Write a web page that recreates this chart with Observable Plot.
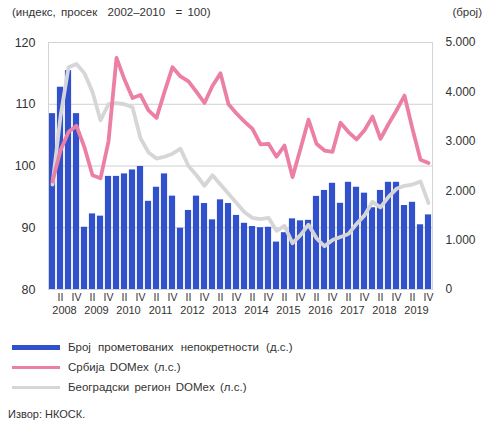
<!DOCTYPE html>
<html>
<head>
<meta charset="utf-8">
<script src="https://cdn.jsdelivr.net/npm/d3@7"></script>
<script src="https://cdn.jsdelivr.net/npm/@observablehq/plot@0.6"></script>
<style>
  html, body { margin: 0; padding: 0; background: #fff; }
  body { width: 484px; height: 425px; overflow: hidden; font-family: "Liberation Sans", Arial, sans-serif; color: #333; }
  #header { position: relative; height: 22px; font-size: 11.5px; }
  #header .l { position: absolute; left: 12px; top: 6px; word-spacing: 2px; }
  #header .r { position: absolute; right: 2px; top: 6px; }
  #chart svg { display: block; }
  #legend { padding-top: 15px; padding-left: 12px; font-size: 11.5px; word-spacing: 2px; }
  .row { display: flex; align-items: center; height: 20px; }
  .sw { width: 48px; margin-right: 8px; }
  #source { font-size: 11px; padding-left: 8px; margin-top: 11px; }
</style>
</head>
<body>
<div id="header"><span class="l">(индекс, просек&nbsp; 2002–2010&nbsp; = 100)</span><span class="r">(број)</span></div>
<div id="chart"></div>
<div id="legend"></div>
<div id="source">Извор: НКОСК.</div>
<script>
// ---- data ----
const years = ["2008","2009","2010","2011","2012","2013","2014","2015","2016","2017","2018","2019"];
const quarterLabels = ["", "II", "", "IV"];
const leftTicks = [80, 90, 100, 110, 120];
const rightTicks = [0, 1000, 2000, 3000, 4000, 5000];
const seriesNames = ["Број прометованих непокретности (д.с.)", "Србија DOMex (л.с.)", "Београдски регион DOMex (л.с.)"];
const seriesColors = ["#3150cc", "#ec7fa5", "#d6d6d8"];

// number of transactions (right axis), quarterly 2008Q1–2019Q4
const transactions = [
  3560, 4095, 4430, 3560,
  1260, 1530, 1485, 2290,
  2290, 2340, 2420, 2490,
  1785, 2070, 2340, 1890,
  1240, 1600, 1890, 1740,
  1410, 1815, 1740, 1500,
  1340, 1275, 1250, 1260,
   960, 1150, 1430, 1390,
  1400, 1885, 2005, 2150,
  1745, 2170, 2070, 1950,
  1655, 2005, 2170, 2170,
  1700, 1765, 1310, 1510
];
// Serbia DOMex (left axis)
const serbiaDomex = [
   97.5, 102.5, 105.5, 106.5,
  103.0,  98.5,  98.0, 104.0,
  117.5, 114.0, 111.0, 111.5,
  109.0, 107.8, 112.0, 116.0,
  114.5, 113.7, 112.0, 110.2,
  113.0, 115.0, 110.0, 108.5,
  107.2, 106.0, 103.5, 103.6,
  101.5, 103.3,  98.2, 102.8,
  107.5, 103.6, 102.5, 102.3,
  107.0, 105.5, 104.3, 105.8,
  108.0, 104.4, 106.8, 109.0,
  111.4, 106.0, 101.0, 100.5
];
// Belgrade region DOMex (left axis)
const belgradeDomex = [
   97.0, 108.0, 116.0, 116.5,
  115.0, 112.0, 107.4, 110.0,
  110.2, 110.0, 109.5, 104.5,
  102.2, 101.2, 101.5, 102.0,
  102.8, 100.0,  98.5,  96.8,
   98.5,  97.0,  95.5,  94.0,
   92.5,  91.6,  91.4,  91.6,
   89.5,  90.3,  87.5,  88.8,
   90.5,  88.3,  87.0,  88.0,
   88.5,  89.0,  90.6,  92.0,
   94.2,  93.3,  95.0,  96.3,
   96.8,  97.0,  97.5,  94.0
];

// ---- build table ----
const yMin = leftTicks[0], yMax = leftTicks[leftTicks.length - 1];
const rMax = rightTicks[rightTicks.length - 1];
const toLeft = c => yMin + c * (yMax - yMin) / rMax;
const rows = transactions.map((t, i) => ({
  i, year: years[Math.floor(i / 4)], q: i % 4, t, s: serbiaDomex[i], b: belgradeDomex[i]
}));
const n = rows.length;
const qTicks = rows.filter(d => quarterLabels[d.q] !== "").map(d => d.i + 0.5);
const qFormat = v => quarterLabels[Math.round(v - 0.5) % 4];
const yearTicks = years.map((y, k) => k * 4 + 2);
const yearFormat = v => years[Math.round((v - 2) / 4)];
const fmtCount = d3.formatLocale({decimal: ",", thousands: ".", grouping: [3], currency: ["", ""]}).format(",");

const plot = Plot.plot({
  width: 484,
  height: 300,
  marginTop: 20,
  marginBottom: 33,
  marginLeft: 48,
  marginRight: 52,
  style: {fontFamily: "Liberation Sans, Arial, sans-serif", fontSize: "12px", color: "#333", background: "#fff"},
  x: {domain: [0, n], axis: null},
  y: {domain: [yMin, yMax], axis: null},
  marks: [
    Plot.ruleY(leftTicks.slice(1, -1), {stroke: "#d0d0d0", strokeWidth: 1}),
    Plot.rectY(rows, {x1: d => d.i, x2: d => d.i + 1, y1: () => yMin, y2: d => toLeft(d.t), fill: seriesColors[0], insetLeft: 0.9, insetRight: 0.9}),
    Plot.line(rows, {x: d => d.i + 0.5, y: "b", stroke: seriesColors[2], strokeWidth: 3.8, strokeLinejoin: "round"}),
    Plot.line(rows, {x: d => d.i + 0.5, y: "s", stroke: seriesColors[1], strokeWidth: 3.8, strokeLinejoin: "round"}),
    Plot.frame({stroke: "#d4d4d4", strokeWidth: 1}),
    Plot.axisY({anchor: "left", ticks: leftTicks, tickSize: 0, tickPadding: 13, tickFormat: d => String(d), fontSize: 12.5}),
    Plot.axisY({anchor: "right", ticks: rightTicks.map(toLeft), tickSize: 0, tickPadding: 13,
      tickFormat: d => fmtCount(Math.round((d - yMin) * rMax / (yMax - yMin))), fontSize: 12}),
    Plot.axisX({ticks: qTicks, tickFormat: qFormat, tickSize: 0, tickPadding: 4, fontSize: 10.5}),
    Plot.axisX({ticks: yearTicks, tickFormat: yearFormat, tickSize: 0, tickPadding: 17, fontSize: 11})
  ]
});
document.getElementById("chart").appendChild(plot);

// ---- legend ----
const legend = d3.select("#legend");
const swH = [5, 3, 3];
seriesNames.forEach((name, k) => {
  const row = legend.append("div").attr("class", "row");
  row.append("div").attr("class", "sw").style("height", swH[k] + "px").style("background", seriesColors[k]);
  row.append("span").text(name).style("word-spacing", k === 0 ? "4px" : "2px");
});
</script>
</body>
</html>
